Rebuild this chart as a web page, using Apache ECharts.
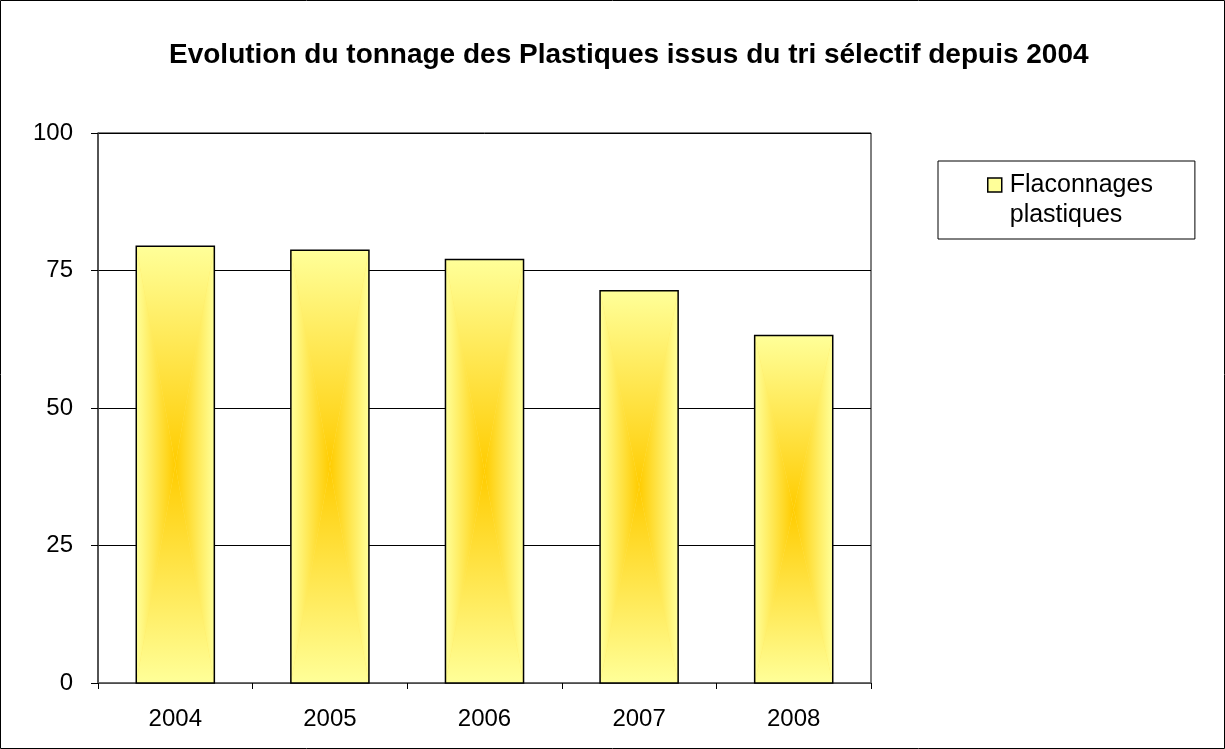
<!DOCTYPE html>
<html>
<head>
<meta charset="utf-8">
<script src="https://cdn.jsdelivr.net/npm/echarts@6/dist/echarts.min.js"></script>
<style>
	html, body { margin: 0; padding: 0; background: #fff; }
	#main { width: 1225px; height: 749px; }
</style>
</head>
<body>
<div id="main"></div>
<script>
var years = ['2004', '2005', '2006', '2007', '2008'];
var tonnage = [79.4, 78.7, 77.0, 71.3, 63.2];
var yTicks = [0, 25, 50, 75, 100];
var seriesName = 'Flaconnages plastiques';

var LIGHT = '#FFFF99',
	DARK = '#FFCC00',
	MID = '#FFE866';

var FONT = 'Liberation Sans, Arial, sans-serif';

var chart = echarts.init(document.getElementById('main'));

function grad(x1, y1, x2, y2) {
	return new echarts.graphic.LinearGradient(x1, y1, x2, y2, [
		{ offset: 0, color: LIGHT },
		{ offset: 1, color: DARK }
	]);
}

// barre avec dégradé "depuis le centre" (4 triangles)
function renderBar(params, api) {
	var cat = api.value(0),
		v = api.value(1);
	var top = api.coord([cat, v]);
	var bottom = api.coord([cat, 0]);
	var w = api.size([1, 0])[0] * 0.505;
	var x0 = top[0] - w / 2,
		x1 = top[0] + w / 2,
		y0 = top[1],
		y1 = bottom[1];
	var cx = top[0],
		cy = (y0 + y1) / 2;
	return {
		type: 'group',
		children: [
			{ type: 'rect', shape: { x: x0, y: y0, width: w, height: y1 - y0 }, style: { fill: MID } },
			{ type: 'polygon', shape: { points: [[x0, y0], [x1, y0], [cx, cy]] }, style: { fill: grad(0, 0, 0, 1) } },
			{ type: 'polygon', shape: { points: [[x0, y1], [x1, y1], [cx, cy]] }, style: { fill: grad(0, 1, 0, 0) } },
			{ type: 'polygon', shape: { points: [[x0, y0], [x0, y1], [cx, cy]] }, style: { fill: grad(0, 0, 1, 0) } },
			{ type: 'polygon', shape: { points: [[x1, y0], [x1, y1], [cx, cy]] }, style: { fill: grad(1, 0, 0, 0) } },
			{ type: 'rect', shape: { x: x0, y: y0, width: w, height: y1 - y0 }, style: { fill: 'none', stroke: '#000', lineWidth: 1.5 } }
		]
	};
}

var barData = [];
for (var i = 0; i < years.length; i++) {
	barData.push([i, tonnage[i]]);
}

var option = {
	backgroundColor: '#fff',
	animation: false,
	title: {
		text: 'Evolution du tonnage des Plastiques issus du tri sélectif depuis 2004',
		left: 164,
		top: 36,
		textStyle: {
			fontFamily: FONT,
			fontSize: 28,
			fontWeight: 'bold',
			color: '#000'
		}
	},
	legend: {
		left: 938,
		top: 161,
		orient: 'vertical',
		padding: [9, 42, 9, 49],
		borderColor: '#000',
		borderWidth: 1,
		itemWidth: 14,
		itemHeight: 44,
		itemGap: 0,
		// carré en haut de l'icône, aligné sur la 1re ligne du texte
		data: [{
			name: seriesName,
			icon: 'path://M0,0h14v14h-14z M0,44',
			itemStyle: {
				color: new echarts.graphic.RadialGradient(0.5, 0.5, 0.6, [
					{ offset: 0, color: DARK },
					{ offset: 1, color: LIGHT }
				]),
				borderColor: '#000',
				borderWidth: 1.5
			}
		}],
		formatter: function(name) {
			return 'Flaconnages\nplastiques';
		},
		textStyle: {
			fontFamily: FONT,
			fontSize: 25,
			lineHeight: 30,
			padding: [0, 0, 0, 3],
			color: '#000'
		}
	},
	grid: {
		left: 98,
		right: 354,
		top: 133,
		bottom: 66,
		show: true,
		borderColor: '#000',
		borderWidth: 1
	},
	xAxis: {
		type: 'category',
		data: years,
		axisLine: { lineStyle: { color: '#666', width: 1.5 } },
		axisTick: { show: true, length: 6, lineStyle: { color: '#000' } },
		axisLabel: {
			margin: 24,
			fontFamily: FONT,
			fontSize: 24,
			color: '#000'
		}
	},
	yAxis: {
		type: 'value',
		min: yTicks[0],
		max: yTicks[yTicks.length - 1],
		interval: 25,
		axisLine: { show: true, lineStyle: { color: '#444', width: 1.5 } },
		axisTick: { show: true, length: 7, lineStyle: { color: '#000' } },
		splitLine: { lineStyle: { color: '#000', width: 1 } },
		axisLabel: {
			margin: 25,
			fontFamily: FONT,
			fontSize: 24,
			color: '#000'
		}
	},
	series: [{
		name: seriesName,
		type: 'custom',
		renderItem: renderBar,
		encode: { x: 0, y: 1 },
		itemStyle: { color: MID },
		data: barData,
		z: 3
	}],
	graphic: [{
		type: 'rect',
		shape: { x: 0.5, y: 0.5, width: 1224, height: 748 },
		style: { fill: 'none', stroke: '#000', lineWidth: 1 },
		silent: true
	}]
};

chart.setOption(option);
</script>
</body>
</html>
